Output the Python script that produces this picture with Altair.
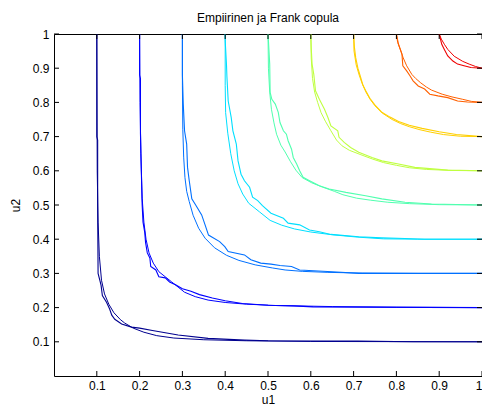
import altair as alt
import pandas as pd

levels = ["0.1", "0.2", "0.3", "0.4", "0.5", "0.6", "0.7", "0.8", "0.9"]
colors = ["#00008f", "#0000ff", "#0070ff", "#00dfff", "#50ffaf",
          "#bfff40", "#ffcf00", "#ff6000", "#ef0000"]
tick_vals = [0.1, 0.2, 0.3, 0.4, 0.5, 0.6, 0.7, 0.8, 0.9, 1.0]

# Frank copula level curves (u1, u2)
frank_01 = [(0.100, 1.0), (0.101, 0.6), (0.103, 0.45), (0.106, 0.35), (0.111, 0.28), (0.118, 0.24),
            (0.128, 0.21), (0.14, 0.185), (0.155, 0.165), (0.165, 0.155), (0.185, 0.14), (0.21, 0.128),
            (0.24, 0.118), (0.28, 0.111), (0.35, 0.106), (0.45, 0.103), (0.6, 0.101), (1.0, 0.1)]
frank_02 = [(0.2, 1.0), (0.201, 0.8), (0.203, 0.65), (0.206, 0.52), (0.21, 0.45), (0.215, 0.4),
            (0.222, 0.36), (0.232, 0.33), (0.245, 0.305), (0.26, 0.29), (0.275, 0.275), (0.29, 0.26),
            (0.305, 0.245), (0.33, 0.232), (0.36, 0.222), (0.4, 0.215), (0.45, 0.21), (0.52, 0.206),
            (0.65, 0.203), (0.8, 0.201), (1.0, 0.2)]
frank_03 = [(0.3, 1.0), (0.3, 0.85), (0.301, 0.72), (0.303, 0.64), (0.306, 0.58), (0.31, 0.54),
            (0.316, 0.51), (0.325, 0.47), (0.338, 0.432), (0.353, 0.403), (0.375, 0.375), (0.403, 0.353),
            (0.432, 0.338), (0.47, 0.325), (0.51, 0.316), (0.54, 0.31), (0.58, 0.306), (0.64, 0.303),
            (0.72, 0.301), (0.85, 0.3), (1.0, 0.3)]
frank_04 = [(0.4, 1.0), (0.4, 0.85), (0.401, 0.77), (0.406, 0.71), (0.413, 0.65), (0.421, 0.6),
            (0.43, 0.562), (0.441, 0.532), (0.455, 0.505), (0.48, 0.48), (0.505, 0.455), (0.532, 0.441),
            (0.562, 0.43), (0.6, 0.421), (0.65, 0.413), (0.71, 0.406), (0.77, 0.401), (0.85, 0.4), (1.0, 0.4)]
frank_05 = [(0.5, 1.0), (0.501, 0.9), (0.504, 0.83), (0.508, 0.78), (0.514, 0.74), (0.52, 0.707),
            (0.53, 0.675), (0.54, 0.655), (0.552, 0.628), (0.565, 0.602), (0.58, 0.58), (0.602, 0.565),
            (0.628, 0.552), (0.655, 0.54), (0.675, 0.53), (0.707, 0.52), (0.74, 0.514), (0.78, 0.508),
            (0.83, 0.504), (0.9, 0.501), (1.0, 0.5)]
frank_06 = [(0.6, 1.0), (0.601, 0.93), (0.604, 0.87), (0.609, 0.83), (0.616, 0.8), (0.624, 0.77),
            (0.634, 0.745), (0.647, 0.717), (0.66, 0.69), (0.673, 0.673), (0.69, 0.66), (0.717, 0.647),
            (0.745, 0.634), (0.77, 0.624), (0.8, 0.616), (0.83, 0.609), (0.87, 0.604), (0.93, 0.601), (1.0, 0.6)]
frank_07 = [(0.7, 1.0), (0.701, 0.95), (0.706, 0.91), (0.713, 0.88), (0.72, 0.855), (0.729, 0.83),
            (0.738, 0.81), (0.75, 0.79), (0.768, 0.768), (0.79, 0.75), (0.81, 0.738), (0.83, 0.729),
            (0.855, 0.72), (0.88, 0.713), (0.91, 0.706), (0.95, 0.701), (1.0, 0.7)]
frank_08 = [(0.8, 1.0), (0.803, 0.975), (0.809, 0.955), (0.816, 0.93), (0.824, 0.907), (0.836, 0.882),
            (0.845, 0.87), (0.857, 0.857), (0.87, 0.845), (0.882, 0.836), (0.907, 0.824), (0.93, 0.816),
            (0.955, 0.809), (0.975, 0.803), (1.0, 0.8)]
frank_09 = [(0.9, 1.0), (0.905, 0.985), (0.912, 0.97), (0.92, 0.955), (0.935, 0.935), (0.955, 0.92),
            (0.97, 0.912), (0.985, 0.905), (1.0, 0.9)]

emp_01 = [(0.1, 1.0), (0.1, 0.70), (0.102, 0.69), (0.102, 0.50), (0.103, 0.30), (0.107, 0.28), (0.11, 0.265),
          (0.113, 0.235), (0.123, 0.215), (0.13, 0.196), (0.135, 0.178), (0.142, 0.166), (0.158, 0.152),
          (0.181, 0.143), (0.2, 0.14), (0.23, 0.133), (0.29, 0.12), (0.36, 0.11), (0.445, 0.105), (0.5, 0.103),
          (0.71, 0.102), (0.84, 0.1), (1.0, 0.1)]
emp_02 = [(0.2, 1.0), (0.2, 0.88), (0.202, 0.87), (0.202, 0.71), (0.204, 0.6), (0.206, 0.5), (0.208, 0.45),
          (0.212, 0.42), (0.214, 0.39), (0.218, 0.36), (0.224, 0.345), (0.226, 0.32), (0.238, 0.31),
          (0.245, 0.29), (0.26, 0.287), (0.27, 0.275), (0.285, 0.266), (0.3, 0.255), (0.32, 0.248),
          (0.34, 0.238), (0.37, 0.228), (0.4, 0.22), (0.44, 0.212), (0.5, 0.207), (0.56, 0.205),
          (0.605, 0.202), (1.0, 0.2)]
emp_03 = [(0.3, 1.0), (0.3, 0.88), (0.302, 0.795), (0.305, 0.717), (0.31, 0.678), (0.312, 0.61),
          (0.316, 0.571), (0.322, 0.518), (0.331, 0.5), (0.345, 0.471), (0.353, 0.442), (0.361, 0.412),
          (0.387, 0.393), (0.399, 0.378), (0.407, 0.364), (0.445, 0.354), (0.46, 0.34), (0.483, 0.33),
          (0.507, 0.327), (0.528, 0.323), (0.555, 0.32), (0.574, 0.31), (0.65, 0.305), (0.712, 0.3), (1.0, 0.3)]
emp_04 = [(0.4, 1.0), (0.4, 0.98), (0.403, 0.91), (0.404, 0.876), (0.407, 0.804), (0.414, 0.756),
          (0.418, 0.717), (0.426, 0.678), (0.43, 0.629), (0.437, 0.59), (0.445, 0.571), (0.457, 0.552),
          (0.464, 0.523), (0.476, 0.513), (0.487, 0.498), (0.507, 0.476), (0.536, 0.461), (0.547, 0.447),
          (0.574, 0.442), (0.597, 0.427), (0.62, 0.422), (0.647, 0.414), (0.712, 0.407), (0.766, 0.404),
          (0.82, 0.402), (0.866, 0.4), (1.0, 0.4)]
emp_05 = [(0.5, 1.0), (0.501, 0.98), (0.504, 0.912), (0.505, 0.829), (0.509, 0.809), (0.517, 0.795),
          (0.524, 0.771), (0.528, 0.741), (0.536, 0.717), (0.543, 0.707), (0.547, 0.688), (0.555, 0.663),
          (0.559, 0.639), (0.567, 0.62), (0.574, 0.6), (0.582, 0.581), (0.597, 0.571), (0.62, 0.556),
          (0.643, 0.547), (0.682, 0.537), (0.728, 0.527), (0.766, 0.518), (0.82, 0.508), (0.882, 0.503), (1.0, 0.5)]
emp_06 = [(0.6, 1.0), (0.601, 0.96), (0.603, 0.912), (0.607, 0.882), (0.611, 0.834), (0.62, 0.809),
          (0.632, 0.78), (0.64, 0.756), (0.647, 0.731), (0.663, 0.717), (0.666, 0.698), (0.678, 0.683),
          (0.693, 0.668), (0.712, 0.654), (0.743, 0.639), (0.766, 0.629), (0.805, 0.62), (0.843, 0.61),
          (0.92, 0.602), (1.0, 0.6)]
emp_07 = [(0.7, 1.0), (0.702, 0.96), (0.705, 0.93), (0.71, 0.9), (0.716, 0.875), (0.722, 0.85), (0.73, 0.83),
          (0.738, 0.812), (0.75, 0.792), (0.765, 0.772), (0.785, 0.757), (0.805, 0.744), (0.83, 0.733),
          (0.86, 0.724), (0.9, 0.714), (0.94, 0.706), (1.0, 0.7)]
emp_08 = [(0.8, 1.0), (0.805, 0.97), (0.813, 0.941), (0.815, 0.907), (0.824, 0.892), (0.832, 0.877),
          (0.839, 0.863), (0.851, 0.848), (0.866, 0.839), (0.878, 0.824), (0.897, 0.819), (0.92, 0.814),
          (0.943, 0.804), (0.966, 0.801), (1.0, 0.8)]
emp_09 = [(0.9, 1.0), (0.906, 0.97), (0.912, 0.955), (0.92, 0.936), (0.932, 0.921), (0.943, 0.912),
          (0.958, 0.907), (0.974, 0.902), (1.0, 0.9)]

frank_curves = [frank_01, frank_02, frank_03, frank_04, frank_05, frank_06, frank_07, frank_08, frank_09]
emp_curves = [emp_01, emp_02, emp_03, emp_04, emp_05, emp_06, emp_07, emp_08, emp_09]


def to_df(curves):
    rows = []
    for lev, pts in zip(levels, curves):
        for i, (u, v) in enumerate(pts):
            rows.append({"u": u, "v": v, "level": lev, "i": i})
    return pd.DataFrame(rows)


frank_df = to_df(frank_curves)
emp_df = to_df(emp_curves)
ticks_df = pd.DataFrame({"t": tick_vals})

W, H = 428, 342
FONT = "Liberation Sans"
xs = alt.Scale(domain=[0, 1], nice=False, zero=False)
ys = alt.Scale(domain=[0, 1], nice=False, zero=False)
cs = alt.Scale(domain=levels, range=colors)

xaxis = alt.Axis(values=tick_vals, format="~g", title="u1", tickSize=0, domain=False, grid=False,
                 labelPadding=4, titlePadding=3, labelFontSize=12, titleFontSize=12,
                 labelFont=FONT, titleFont=FONT, titleFontWeight="normal",
                 labelColor="black", titleColor="black", labelOverlap=False, labelFlush=True)
yaxis = alt.Axis(values=tick_vals, format="~g", title="u2", tickSize=0, domain=False, grid=False,
                 labelPadding=5, titlePadding=10, labelFontSize=12, titleFontSize=12,
                 labelFont=FONT, titleFont=FONT, titleFontWeight="normal",
                 labelColor="black", titleColor="black", labelOverlap=False, labelFlush=False)

X = alt.X("u:Q", scale=xs, axis=xaxis)
Y = alt.Y("v:Q", scale=ys, axis=yaxis)

frank_layer = alt.Chart(frank_df).mark_line(strokeWidth=1, clip=True).encode(
    x=X, y=Y,
    color=alt.Color("level:N", scale=cs, legend=None),
    detail="level:N",
    order=alt.Order("i:Q"),
)
emp_layer = alt.Chart(emp_df).mark_line(strokeWidth=1.1, clip=True).encode(
    x=X, y=Y,
    color=alt.Color("level:N", scale=cs, legend=None),
    detail="level:N",
    order=alt.Order("i:Q"),
)

tk = alt.Chart(ticks_df)
TX = alt.X("t:Q", scale=xs, axis=xaxis)
TY = alt.Y("t:Q", scale=ys, axis=yaxis)
tick_bottom = tk.mark_rule(color="black", strokeWidth=1).encode(
    x=TX, y=alt.value(H), y2=alt.value(H - 5))
tick_top = tk.mark_rule(color="black", strokeWidth=1).encode(
    x=TX, y=alt.value(0), y2=alt.value(5))
tick_left = tk.mark_rule(color="black", strokeWidth=1).encode(
    y=TY, x=alt.value(0), x2=alt.value(5))
tick_right = tk.mark_rule(color="black", strokeWidth=1).encode(
    y=TY, x=alt.value(W), x2=alt.value(W - 5))

chart = alt.layer(frank_layer, emp_layer, tick_bottom, tick_top, tick_left, tick_right).properties(
    width=W, height=H,
    title=alt.TitleParams("Empiirinen ja Frank copula", fontSize=12, fontWeight="normal", font=FONT,
                          color="black", anchor="middle", baseline="alphabetic", offset=5, dy=11),
    autosize=alt.AutoSizeParams(type="none"),
    padding={"left": 46, "top": 26, "right": 0, "bottom": 31},
    background="white",
).configure_view(stroke="black", strokeWidth=1)

chart.save("out.html", embed_options={"renderer": "svg", "actions": False})
